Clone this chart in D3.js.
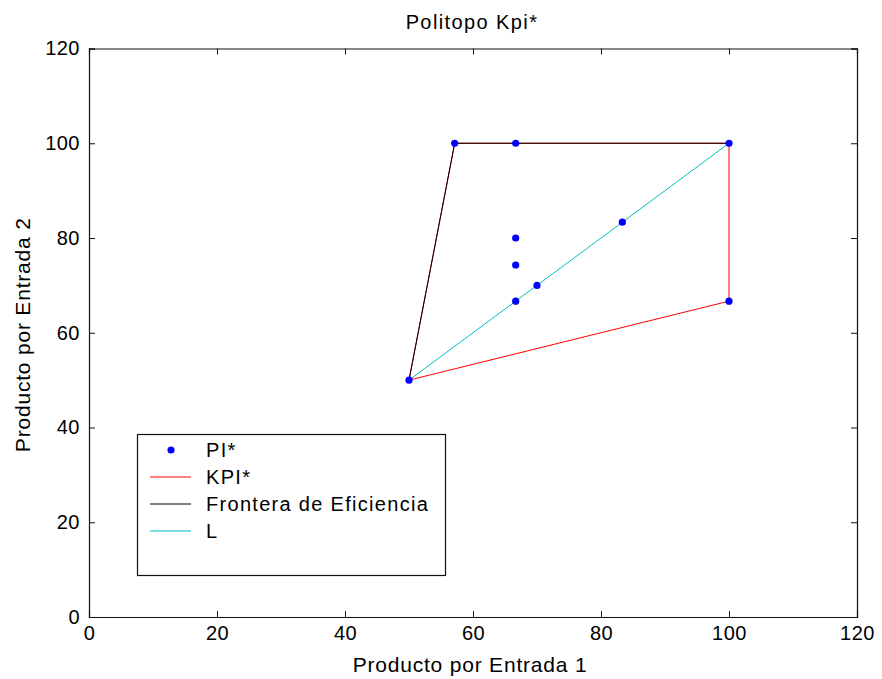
<!DOCTYPE html>
<html>
<head>
<meta charset="utf-8">
<script src="https://cdn.jsdelivr.net/npm/d3@7"></script>
<style>
  html, body { margin: 0; padding: 0; background: #fff; }
  svg { display: block; font-family: "Liberation Sans", Arial, Helvetica, sans-serif; }
</style>
</head>
<body>
<svg id="chart" width="882" height="679"></svg>
<script>
// Points of PI*
const piX = [50, 57.14, 66.67, 100, 66.67, 66.67, 66.67, 70, 83.33, 100];
const piY = [50, 100, 100, 100, 80, 74.3, 66.67, 70, 83.33, 66.67];

// Polytope KPI* (closed)
const kpiX = [50, 57.14, 100, 100, 50];
const kpiY = [50, 100, 100, 66.67, 50];

// Efficiency frontier
const frontX = [50, 57.14, 100];
const frontY = [50, 100, 100];

// Line L
const lX = [50, 100];
const lY = [50, 100];

const xTicks = [0, 20, 40, 60, 80, 100, 120];
const yTicks = [0, 20, 40, 60, 80, 100, 120];

const legendLabels = ["PI*", "KPI*", "Frontera de Eficiencia", "L"];

const svg = d3.select("#chart");
const mLeft = 89, mRight = 857, mTop = 48.5, mBottom = 617;

const x = d3.scaleLinear().domain([0, 120]).range([mLeft, mRight]);
const y = d3.scaleLinear().domain([0, 120]).range([mBottom, mTop]);

const axisColor = "#111";
const tickFont = 20;

// Axes: ticks pointing inward on all four sides
const tickLen = 6;
const gx = svg.append("g").attr("transform", `translate(0,${mBottom})`)
  .call(d3.axisBottom(x).tickValues(xTicks).tickSize(-tickLen).tickPadding(9).tickFormat(d3.format("d")));
const gxt = svg.append("g").attr("transform", `translate(0,${mTop})`)
  .call(d3.axisTop(x).tickValues(xTicks).tickSize(-tickLen).tickFormat(""));
const gy = svg.append("g").attr("transform", `translate(${mLeft},0)`)
  .call(d3.axisLeft(y).tickValues(yTicks).tickSize(-tickLen).tickPadding(9).tickFormat(d3.format("d")));
const gyr = svg.append("g").attr("transform", `translate(${mRight},0)`)
  .call(d3.axisRight(y).tickValues(yTicks).tickSize(-tickLen).tickFormat(""));

[gx, gxt, gy, gyr].forEach(g => {
  g.select(".domain").attr("stroke", axisColor).attr("stroke-width", 1.2);
  g.selectAll(".tick line").attr("stroke", axisColor);
  g.selectAll(".tick text").attr("fill", "#000").style("font-size", tickFont + "px")
    .style("font-family", '"Liberation Sans", Arial, sans-serif')
    .style("letter-spacing", "0.5px");
});

// Lines
const line = d3.line().x(d => x(d[0])).y(d => y(d[1]));
const zip = (a, b) => a.map((v, i) => [v, b[i]]);

const plot = svg.append("g");
plot.append("path").datum(zip(kpiX, kpiY)).attr("d", line)
  .attr("fill", "none").attr("stroke", "#ff0000").attr("stroke-width", 1);
plot.append("path").datum(zip(frontX, frontY)).attr("d", line)
  .attr("fill", "none").attr("stroke", "#000").attr("stroke-width", 1);
plot.append("path").datum(zip(lX, lY)).attr("d", line)
  .attr("fill", "none").attr("stroke", "#00bfbf").attr("stroke-width", 1);

plot.selectAll("circle.pi").data(zip(piX, piY)).enter().append("circle")
  .attr("class", "pi")
  .attr("cx", d => x(d[0])).attr("cy", d => y(d[1]))
  .attr("r", 3.6).attr("fill", "#0000ff");

// Title and axis labels
svg.append("text").attr("x", (mLeft + mRight) / 2 - 1).attr("y", 29)
  .attr("text-anchor", "middle").style("font-size", "20px").style("letter-spacing", "1.4px")
  .text("Politopo Kpi*");
svg.append("text").attr("x", (mLeft + mRight) / 2 - 3).attr("y", 672)
  .attr("text-anchor", "middle").style("font-size", "21px").style("letter-spacing", "0.8px")
  .text("Producto por Entrada 1");
svg.append("text").attr("transform", `translate(30,${(mTop + mBottom) / 2 + 2}) rotate(-90)`)
  .attr("text-anchor", "middle").style("font-size", "21px").style("letter-spacing", "0.8px")
  .text("Producto por Entrada 2");

// Legend
const lg = svg.append("g");
lg.append("rect").attr("x", 137.5).attr("y", 434.5).attr("width", 308).attr("height", 141)
  .attr("fill", "#fff").attr("stroke", "#111").attr("stroke-width", 1.2);
const rowY = [450, 477, 504, 531];
const legendStyles = [
  { type: "dot", color: "#0000ff" },
  { type: "line", color: "#ff0000" },
  { type: "line", color: "#000" },
  { type: "line", color: "#00bfbf" }
];
legendLabels.forEach((lab, i) => {
  const st = legendStyles[i];
  if (st.type === "dot") {
    lg.append("circle").attr("cx", 171).attr("cy", rowY[i]).attr("r", 3.6).attr("fill", st.color);
  } else {
    lg.append("line").attr("x1", 150).attr("x2", 191).attr("y1", rowY[i]).attr("y2", rowY[i])
      .attr("stroke", st.color).attr("stroke-width", 1);
  }
  lg.append("text").attr("x", 206).attr("y", rowY[i]).attr("dy", "0.35em")
    .style("font-size", "20px").style("letter-spacing", "1.3px").text(lab);
});
</script>
</body>
</html>
